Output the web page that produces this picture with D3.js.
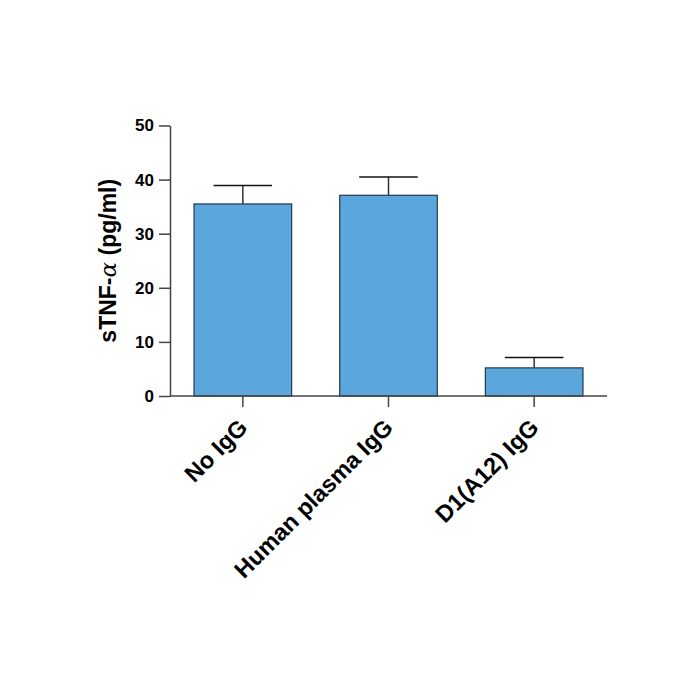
<!DOCTYPE html>
<meta charset='utf-8'>
<html>
  <style>
    body { margin: 0; background: #fff; }
    .axis text { font-family: "Liberation Sans", Arial, sans-serif; font-weight: bold; fill: #000; }
    .axis path, .axis line { stroke: #444; stroke-width: 1.5px; }
  </style>
  <head>
    <script src="https://cdnjs.cloudflare.com/ajax/libs/d3/7.8.5/d3.min.js"></script>
  </head>
  <body>
    <div id="chart"></div>
    <script>
      var groups = ['No IgG', 'Human plasma IgG', 'D1(A12) IgG'],
        means = [35.5, 37.1, 5.2],
        errors = [3.4, 3.4, 1.9],
        yTicks = [0, 10, 20, 30, 40, 50];

      var W = 700, H = 700,
        mLeft = 170, mRight = 607, mTop = 125.5, mBottom = 396;

      var svg = d3.select('#chart').append('svg')
        .attr('width', W)
        .attr('height', H);

      var x = d3.scaleBand().domain(groups).range([mLeft, mRight]).paddingInner(0.33).paddingOuter(0.165);
      var y = d3.scaleLinear().domain([0, 50]).range([mBottom, mTop]);

      var data = groups.map(function(g, i) { return {g: g, m: means[i], e: errors[i]}; });

      // error bars, only the upper half shows
      var eb = svg.selectAll('.err').data(data).enter().append('g').attr('class', 'err');
      eb.append('line')
        .attr('x1', function(d) { return x(d.g) + x.bandwidth() / 2; })
        .attr('x2', function(d) { return x(d.g) + x.bandwidth() / 2; })
        .attr('y1', function(d) { return y(d.m); })
        .attr('y2', function(d) { return y(d.m + d.e); })
        .attr('stroke', '#333').attr('stroke-width', 1.5);
      eb.append('line')
        .attr('x1', function(d) { return x(d.g) + x.bandwidth() * 0.2; })
        .attr('x2', function(d) { return x(d.g) + x.bandwidth() * 0.8; })
        .attr('y1', function(d) { return y(d.m + d.e); })
        .attr('y2', function(d) { return y(d.m + d.e); })
        .attr('stroke', '#111').attr('stroke-width', 1.5);

      svg.selectAll('.bar').data(data).enter().append('rect')
        .attr('class', 'bar')
        .attr('x', function(d) { return x(d.g); })
        .attr('y', function(d) { return y(d.m); })
        .attr('width', x.bandwidth())
        .attr('height', function(d) { return y(0) - y(d.m); })
        .attr('fill', '#5ba6dd')
        .attr('stroke', '#24384c')
        .attr('stroke-width', 1.2);

      var yAxis = svg.append('g')
        .attr('class', 'axis')
        .attr('transform', 'translate(' + mLeft + ',0)')
        .call(d3.axisLeft(y).tickValues(yTicks).tickSize(11).tickSizeOuter(0).tickPadding(5));
      yAxis.selectAll('text').style('font-size', '17px');

      var xAxis = svg.append('g')
        .attr('class', 'axis')
        .attr('transform', 'translate(0,' + mBottom + ')')
        .call(d3.axisBottom(x).tickSize(11).tickSizeOuter(0));
      xAxis.select('.domain').attr('d', 'M' + mLeft + ',0H' + mRight);
      xAxis.selectAll('text')
        .style('font-size', '23.5px')
        .style('text-anchor', 'end')
        .attr('x', 6)
        .attr('y', 33)
        .attr('dy', 0)
        .attr('transform', 'rotate(-45 6 33)');

      var yl = svg.append('text')
        .attr('transform', 'translate(116,' + ((mTop + mBottom) / 2) + ') rotate(-90)')
        .attr('text-anchor', 'middle')
        .style('font-family', '"Liberation Sans", Arial, sans-serif')
        .style('font-weight', 'bold')
        .style('font-size', '23px');
      yl.append('tspan').text('sTNF-');
      yl.append('tspan').style('font-family', '"DejaVu Serif", serif').style('font-weight', 'normal').style('font-style', 'italic').text('α');
      yl.append('tspan').text(' (pg/ml)');
    </script>
  </body>
</html>
